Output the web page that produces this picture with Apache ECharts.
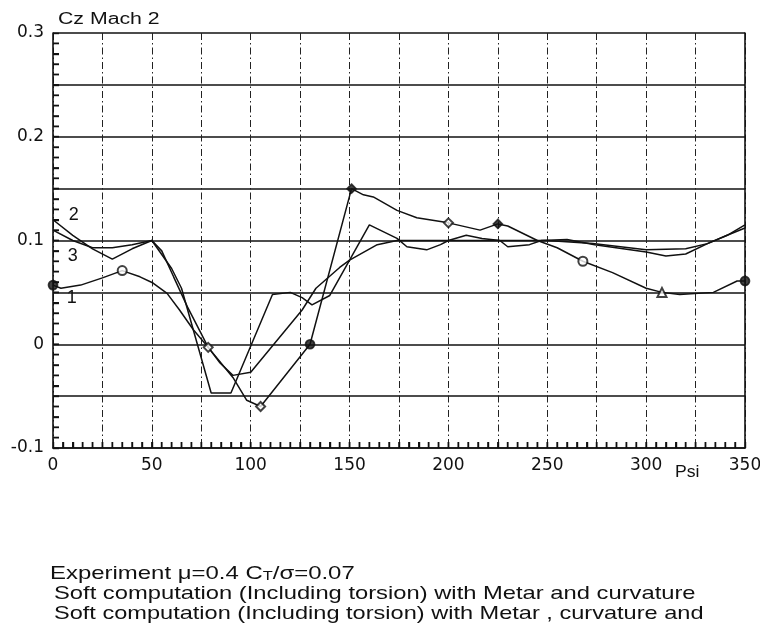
<!DOCTYPE html>
<html>
<head>
<meta charset="utf-8">
<script src="https://cdn.jsdelivr.net/npm/echarts@6/dist/echarts.min.js"></script>
<style>
  html, body { margin: 0; padding: 0; background: #fff; }
  #chart { width: 760px; height: 629px; }
</style>
</head>
<body>
<div id="chart"></div>
<script>
// Lift coefficient Cz against blade azimuth Psi (deg), Mach 2 station
const psiTicks = [0, 50, 100, 150, 200, 250, 300, 350];
const czTicks = [-0.1, 0, 0.1, 0.2, 0.3];

// Curve 1: experiment
const psi1 = [0, 4, 14, 25, 35, 44, 50.6, 57.7, 64, 71, 78.5, 91, 98, 105, 130, 151, 157, 162, 174, 184, 200, 216, 225, 230, 245, 255, 268, 283, 300, 308, 317, 334, 346, 350];
const cz1  = [0.057, 0.054, 0.057, 0.064, 0.071, 0.065, 0.059, 0.049, 0.033, 0.014, -0.003, -0.032, -0.054, -0.06, 0.0, 0.15, 0.144, 0.142, 0.129, 0.122, 0.117, 0.11, 0.116, 0.114, 0.1, 0.093, 0.08, 0.069, 0.054, 0.05, 0.048, 0.05, 0.061, 0.061];

// Measured points drawn with symbols on curve 1
const markPsi   = [0, 35, 78.5, 105, 130, 151, 200, 225, 268, 308, 350];
const markCz    = [0.057, 0.071, -0.003, -0.06, 0.0, 0.15, 0.117, 0.116, 0.08, 0.05, 0.061];
const markShape = ['circle', 'emptyCircle', 'emptyDiamond', 'emptyDiamond', 'circle', 'diamond', 'emptyDiamond', 'diamond', 'emptyCircle', 'emptyTriangle', 'circle'];

// Curve 2: computation with Metar and curvature
const psi2 = [0, 10, 20, 30, 40, 50, 60, 65, 80, 90, 111, 120, 126, 131, 140, 150, 160, 174, 179, 189, 196, 200, 209, 217, 226, 230, 241, 247, 260, 274, 300, 310, 320, 331, 341, 350];
const cz2  = [0.12, 0.105, 0.092, 0.082, 0.092, 0.1, 0.073, 0.054, -0.047, -0.047, 0.048, 0.05, 0.045, 0.038, 0.047, 0.081, 0.115, 0.102, 0.094, 0.091, 0.096, 0.1, 0.105, 0.102, 0.1, 0.094, 0.096, 0.1, 0.101, 0.096, 0.089, 0.085, 0.087, 0.097, 0.105, 0.115];

// Curve 3: computation with Metar, curvature and ...
const psi3 = [0, 10, 20, 30, 40, 50, 55, 61, 68, 74.5, 78.5, 84.5, 91, 100, 126, 133, 145, 150, 164, 174, 200, 225, 250, 273, 300, 320, 331, 341, 350];
const cz3  = [0.11, 0.1, 0.093, 0.093, 0.096, 0.1, 0.09, 0.065, 0.036, 0.012, -0.003, -0.018, -0.03, -0.027, 0.033, 0.054, 0.074, 0.081, 0.096, 0.1, 0.1, 0.1, 0.1, 0.097, 0.091, 0.092, 0.097, 0.105, 0.112];

// Curve numbers written beside the left end of each curve
const curveTags = ['2', '3', '1'];
const tagPsi = [10.5, 10, 9.5];
const tagCz  = [0.125, 0.085, 0.045];

const legendLines = [
  'Soft computation (Including torsion) with Metar and curvature',
  'Soft computation (Including torsion) with Metar , curvature and'
];

const FONT = "'Liberation Sans', Arial, sans-serif";
const TICK_FONT = "'DejaVu Sans', 'Liberation Sans', sans-serif";
const INK = '#111';

// Axis extents and the fine tick steps used along the frame
const PSI_MIN = 0, PSI_MAX = 350, PSI_STEP = 5;
const CZ_MIN = -0.1, CZ_MAX = 0.3, CZ_STEP = 0.01;

function pairs(xs, ys) { return xs.map((x, i) => [x, ys[i]]); }

// Inward tick marks along the bottom and left edges, placed with the axis scales
function renderFrameTicks(params, api) {
  const children = [];
  const nx = Math.round((PSI_MAX - PSI_MIN) / PSI_STEP);
  for (let i = 1; i < nx; i++) {
    const p = api.coord([PSI_MIN + i * PSI_STEP, CZ_MIN]);
    children.push({ type: 'line', shape: { x1: p[0], y1: p[1], x2: p[0], y2: p[1] - 6 },
      style: { stroke: INK, lineWidth: 1.5 } });
  }
  const ny = Math.round((CZ_MAX - CZ_MIN) / CZ_STEP);
  for (let j = 1; j < ny; j++) {
    const p = api.coord([PSI_MIN, CZ_MIN + j * CZ_STEP]);
    children.push({ type: 'line', shape: { x1: p[0], y1: p[1], x2: p[0] + 6, y2: p[1] },
      style: { stroke: INK, lineWidth: 1.5 } });
  }
  return { type: 'group', children: children };
}

const chart = echarts.init(document.getElementById('chart'), null, { renderer: 'canvas' });

const lineStyle = { color: INK, width: 1.5 };
const tickStyle = { color: INK, width: 1.4 };

const option = {
  animation: false,
  backgroundColor: '#fff',
  textStyle: { fontFamily: FONT, color: INK },
  grid: { left: 53, right: 15, top: 33, bottom: 181, containLabel: false, outerBoundsMode: 'none' },
  xAxis: {
    type: 'value', min: PSI_MIN, max: PSI_MAX, interval: 25,
    axisLine: { show: true, onZero: true, onZeroAxisIndex: 1, lineStyle: { color: INK, width: 1.6 } },
    axisTick: { show: true, inside: true, length: 6, lineStyle: tickStyle },
    minorTick: { show: true, splitNumber: 5, length: 6, lineStyle: tickStyle },
    axisLabel: {
      margin: 9, fontSize: 17, color: INK, fontFamily: TICK_FONT,
      formatter: v => (psiTicks.includes(v) ? String(v) : '')
    },
    splitLine: { show: true, lineStyle: { color: '#222', width: 1, type: [7, 3, 1.5, 3] } }
  },
  yAxis: [{
    type: 'value', min: CZ_MIN, max: CZ_MAX, interval: 0.05,
    axisLine: { show: true, lineStyle: { color: INK, width: 1.6 } },
    axisTick: { show: true, inside: true, length: 6, lineStyle: tickStyle },
    minorTick: { show: true, splitNumber: 5, length: 6, lineStyle: tickStyle },
    axisLabel: {
      margin: 9, fontSize: 17, color: INK, fontFamily: TICK_FONT,
      formatter: v => {
        const hit = czTicks.find(t => Math.abs(t - v) < 1e-9);
        return hit === undefined ? '' : String(hit);
      }
    },
    splitLine: { show: true, lineStyle: { color: INK, width: 1.6 } }
  }, {
    // right-hand frame at Psi = 350
    type: 'value', min: 0, max: 1, position: 'right',
    axisLine: { show: true, lineStyle: { color: INK, width: 1.6 } },
    axisTick: { show: false }, axisLabel: { show: false }, splitLine: { show: false }
  }],
  series: [
    {
      type: 'custom', name: 'ticks', coordinateSystem: 'cartesian2d', silent: true,
      renderItem: renderFrameTicks, data: [[100, 0.1]], z: 10
    },
    { type: 'line', name: '1', data: pairs(psi1, cz1), symbol: 'none', lineStyle: lineStyle, z: 3 },
    { type: 'line', name: '2', data: pairs(psi2, cz2), symbol: 'none', lineStyle: lineStyle, z: 3 },
    { type: 'line', name: '3', data: pairs(psi3, cz3), symbol: 'none', lineStyle: lineStyle, z: 3 },
    {
      type: 'scatter', name: 'points',
      data: markPsi.map((x, i) => ({ value: [x, markCz[i]], symbol: markShape[i] })),
      symbolSize: 9,
      itemStyle: { color: INK, borderColor: INK, borderWidth: 1.7 },
      z: 5
    }
  ],
  graphic: [
    {
      type: 'text', x: 58, y: 12, scaleX: 1.33,
      style: { text: 'Cz Mach 2', font: "16px " + FONT, fill: INK }
    },
    {
      type: 'text', x: 675, y: 465, scaleX: 1.1,
      style: { text: 'Psi', font: "16px " + FONT, fill: INK }
    },
    {
      type: 'text', x: 50, y: 564, scaleX: 1.26,
      style: {
        text: '{a|Experiment μ=0.4 C}{s|T}{a|/σ=0.07}',
        rich: {
          a: { font: "19px " + FONT, fill: INK },
          s: { font: "13px " + FONT, fill: INK, padding: [5, 0, 0, 0] }
        }
      }
    },
    { type: 'text', x: 54, y: 584, scaleX: 1.25, style: { text: legendLines[0], font: "19px " + FONT, fill: INK } },
    { type: 'text', x: 54, y: 604, scaleX: 1.24, style: { text: legendLines[1], font: "19px " + FONT, fill: INK } }
  ]
};

chart.setOption(option);

// Curve numbers, placed through the grid's own scales
const tagGraphics = curveTags.map((t, i) => {
  const p = chart.convertToPixel({ gridIndex: 0 }, [tagPsi[i], tagCz[i]]);
  return {
    type: 'text', x: p[0], y: p[1],
    style: { text: t, font: "18px " + FONT, fill: INK, align: 'center', verticalAlign: 'middle' }
  };
});
chart.setOption({ graphic: option.graphic.concat(tagGraphics) });
</script>
</body>
</html>
